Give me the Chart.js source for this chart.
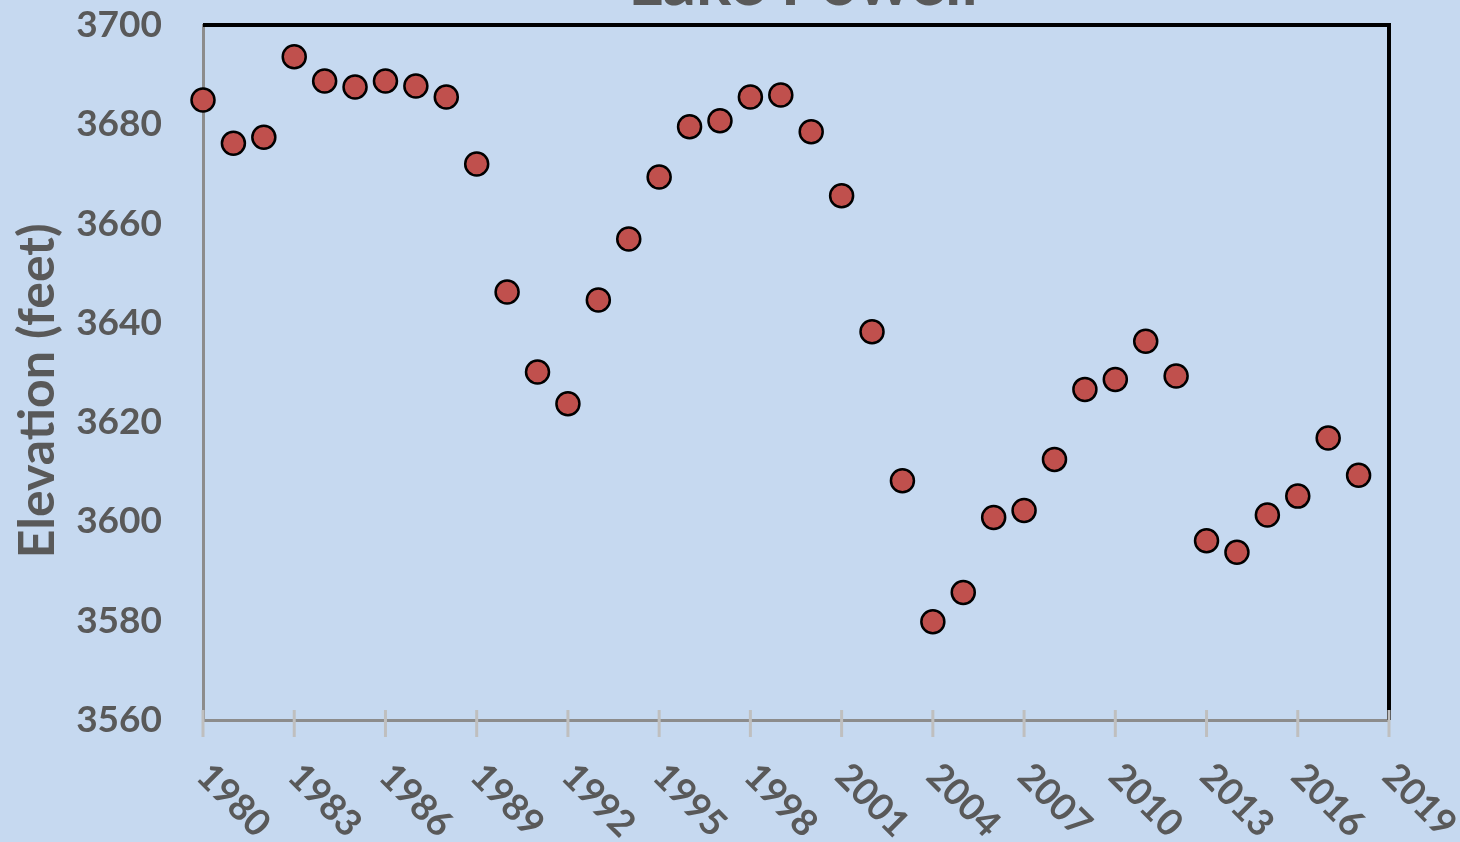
<!DOCTYPE html>
<html>
<head>
<meta charset="utf-8">
<title>Lake Powell</title>
<script src="https://cdn.jsdelivr.net/npm/chart.js@4.4.1/dist/chart.umd.min.js"></script>
<style>
  html, body { margin: 0; padding: 0; background: #c6d9f0; }
  #wrap { width: 1460px; height: 842px; position: relative; }
</style>
</head>
<body>
<div id="wrap"><canvas id="powell"></canvas></div>
<script>
// lake elevation at the end of each year
var years = [1980, 1981, 1982, 1983, 1984, 1985, 1986, 1987, 1988, 1989,
             1990, 1991, 1992, 1993, 1994, 1995, 1996, 1997, 1998, 1999,
             2000, 2001, 2002, 2003, 2004, 2005, 2006, 2007, 2008, 2009,
             2010, 2011, 2012, 2013, 2014, 2015, 2016, 2017, 2018];
var elevation = [3684.9, 3676.2, 3677.4, 3693.6, 3688.7, 3687.5, 3688.7, 3687.7, 3685.5, 3672.0,
                 3646.2, 3630.1, 3623.7, 3644.6, 3656.9, 3669.4, 3679.5, 3680.7, 3685.5, 3685.9,
                 3678.5, 3665.6, 3638.2, 3608.2, 3579.8, 3585.7, 3600.8, 3602.2, 3612.5, 3626.6,
                 3628.6, 3636.3, 3629.3, 3596.1, 3593.8, 3601.3, 3605.1, 3616.8, 3609.3];
var yearRange = [1980, 2019];
var elevRange = [3560, 3700];

var grey = '#595959';
var fontName = 'Lato, "Open Sans", sans-serif';

var points = [];
for (var i = 0; i < years.length; i++) {
	points.push({ x: years[i], y: elevation[i] });
}

// title (cut off by the top edge), frame, x tick marks and slanted year labels
var extras = {
	id: 'extras',
	afterDraw: function(chart) {
		var ctx = chart.ctx;
		var area = chart.chartArea;
		var xs = chart.scales.x;
		ctx.save();

		ctx.fillStyle = grey;
		ctx.font = 'bold 66px ' + fontName;
		ctx.textAlign = 'center';
		ctx.textBaseline = 'alphabetic';
		ctx.fillText('Lake Powell', 803, 5);

		ctx.strokeStyle = '#000000';
		ctx.lineWidth = 4;
		ctx.beginPath();
		ctx.moveTo(area.left, area.top);
		ctx.lineTo(area.right, area.top);
		ctx.lineTo(area.right, area.bottom);
		ctx.stroke();

		ctx.strokeStyle = '#bfbfbf';
		ctx.lineWidth = 3;
		xs.ticks.forEach(function(t) {
			var px = xs.getPixelForValue(t.value);
			ctx.beginPath();
			ctx.moveTo(px, area.bottom - 10);
			ctx.lineTo(px, area.bottom + 17);
			ctx.stroke();
		});

		ctx.fillStyle = grey;
		ctx.font = 'bold 37px ' + fontName;
		ctx.textAlign = 'left';
		ctx.textBaseline = 'middle';
		xs.ticks.forEach(function(t) {
			var px = xs.getPixelForValue(t.value);
			ctx.save();
			ctx.translate(px, 770);
			ctx.rotate(Math.PI / 4);
			ctx.fillText(String(t.value), 0, 0);
			ctx.restore();
		});
		ctx.restore();
	}
};

new Chart(document.getElementById('powell'), {
	type: 'scatter',
	data: {
		datasets: [{
			label: 'Elevation',
			data: points,
			backgroundColor: '#c0504d',
			borderColor: '#000000',
			borderWidth: 2.5,
			pointRadius: 11.5,
			pointHoverRadius: 11.5
		}]
	},
	options: {
		responsive: true,
		maintainAspectRatio: false,
		animation: false,
		clip: false,
		layout: { padding: { top: 25, right: 71, left: 0, bottom: 0 } },
		plugins: {
			legend: { display: false },
			tooltip: { enabled: false }
		},
		scales: {
			x: {
				type: 'linear',
				min: yearRange[0],
				max: yearRange[1],
				ticks: { display: false, stepSize: 3 },
				grid: { display: true, drawOnChartArea: false, drawTicks: false, color: 'rgba(0,0,0,0)' },
				border: { display: true, color: '#8c8c8c', width: 3 },
				afterFit: function(s) { s.height = 122; s.paddingLeft = 0; s.paddingRight = 0; }
			},
			y: {
				min: elevRange[0],
				max: elevRange[1],
				ticks: {
					stepSize: 20,
					padding: 41,
					color: grey,
					font: { family: fontName, size: 37, weight: 'bold' },
					callback: function(v) { return String(v); }
				},
				grid: { display: true, drawOnChartArea: false, drawTicks: false, color: 'rgba(0,0,0,0)' },
				border: { display: true, color: '#8c8c8c', width: 3 },
				title: {
					display: true,
					// trailing spaces nudge the rotated title a bit lower
					text: 'Elevation (feet)   ',
					color: grey,
					font: { family: fontName, size: 50, weight: 'bold' },
					padding: { top: 8, bottom: 0 }
				},
				afterFit: function(s) { s.width = 203; s.paddingTop = 0; s.paddingBottom = 0; }
			}
		}
	},
	plugins: [extras]
});
</script>
</body>
</html>
